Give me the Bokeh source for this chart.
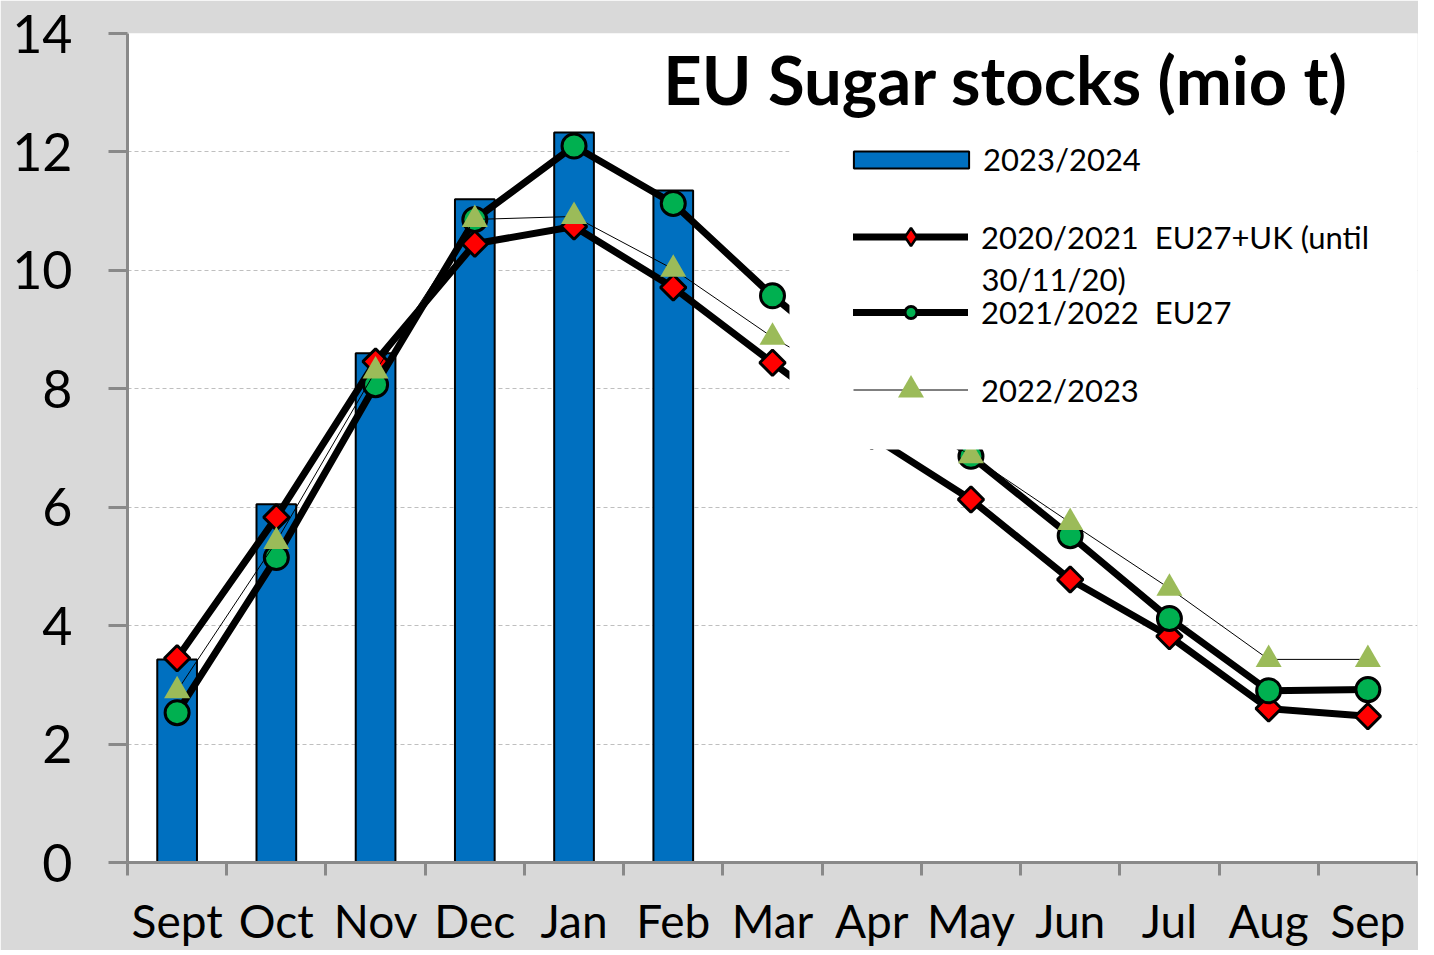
from bokeh.plotting import figure
from bokeh.models import (Range1d, FixedTicker, Legend, LegendItem, Label,
                          BoxAnnotation)
from bokeh.embed import file_html
from bokeh.resources import INLINE
import math

# ---------------- data ----------------
months = ["Sept", "Oct", "Nov", "Dec", "Jan", "Feb", "Mar", "Apr",
          "May", "Jun", "Jul", "Aug", "Sep"]
stocks_2023_24 = [3.43, 6.05, 8.60, 11.20, 12.33, 11.35]
stocks_2020_21 = [3.45, 5.83, 8.46, 10.45, 10.74, 9.71, 8.44, 7.20,
                  6.13, 4.78, 3.82, 2.60, 2.47]
stocks_2021_22 = [2.53, 5.15, 8.07, 10.86, 12.10, 11.13, 9.57, 8.20,
                  6.86, 5.52, 4.12, 2.90, 2.92]
stocks_2022_23 = [2.90, 5.42, 8.30, 10.86, 10.91, 10.02, 8.87, 7.90,
                  6.87, 5.74, 4.63, 3.43, 3.43]
y_ticks = [0, 2, 4, 6, 8, 10, 12, 14]

title_text = "EU Sugar stocks (mio t)"
label_2324 = "2023/2024"
label_2021 = "2020/2021\u00a0 EU27+UK (until"
label_2021_b = "30/11/20)"
label_2122 = "2021/2022\u00a0 EU27"
label_2223 = "2022/2023"

FONT = "Lato"
n = len(months)
centers = [i + 0.5 for i in range(n)]
bounds = [i for i in range(n + 1)]

p = figure(frame_width=1290, frame_height=829,
           x_range=Range1d(0, n), y_range=Range1d(0, 14),
           output_backend="svg", toolbar_location=None,
           min_border_left=127, min_border_top=33, min_border_bottom=75,
           min_border_right=1,
           background_fill_color="white", border_fill_color="#d9d9d9",
           outline_line_color=None)

# axes
ax = p.xaxis[0]
ax.ticker = FixedTicker(ticks=centers, minor_ticks=bounds)
ax.major_label_overrides = {c: m for c, m in zip(centers, months)}
ax.major_tick_line_color = None
ax.major_tick_out = 0
ax.major_tick_in = 0
ax.minor_tick_out = 13
ax.minor_tick_in = 0
ax.minor_tick_line_color = "#898989"
ax.minor_tick_line_width = 3
ax.axis_line_color = "#898989"
ax.axis_line_width = 3
ax.major_label_text_font = FONT
ax.major_label_text_font_size = "46px"
ax.major_label_text_color = "black"
ax.major_label_standoff = 17

ay = p.yaxis[0]
ay.ticker = FixedTicker(ticks=y_ticks)
ay.major_tick_out = 19
ay.major_tick_in = 0
ay.major_tick_line_color = "#898989"
ay.major_tick_line_width = 3
ay.minor_tick_line_color = None
ay.axis_line_color = "#898989"
ay.axis_line_width = 3
ay.major_label_text_font = FONT
ay.major_label_text_font_size = "52px"
ay.major_label_text_color = "black"
ay.major_label_standoff = 36

p.xgrid.grid_line_color = None
p.ygrid.grid_line_color = "#bfbfbf"
p.ygrid.grid_line_dash = "4 3"
p.ygrid.grid_line_width = 1

# bars
bars = p.vbar(x=centers[:len(stocks_2023_24)], top=stocks_2023_24, width=0.4,
              fill_color="#0070C0", line_color="black", line_width=2)

# 2020/2021
l1 = p.line(centers, stocks_2020_21, line_color="black", line_width=7,
            line_join="round", line_cap="round")
m1_key = p.scatter(centers, stocks_2020_21, marker="diamond", size=13,
                   fill_color="#ff0000", line_color="black", line_width=2.5)
m1 = p.scatter(centers, stocks_2020_21, marker="square", angle=math.pi / 4,
               size=18, fill_color="#ff0000", line_color="black", line_width=3)
# 2021/2022
l2 = p.line(centers, stocks_2021_22, line_color="black", line_width=7,
            line_join="round", line_cap="round")
m2 = p.scatter(centers, stocks_2021_22, marker="circle", size=24,
               fill_color="#00b050", line_color="black", line_width=3)
# 2022/2023
l3 = p.line(centers, stocks_2022_23, line_color="black", line_width=1)
m3 = p.scatter(centers, stocks_2022_23, marker="triangle", size=26,
               fill_color="#9bbb59", line_color=None)

# white legend area
p.add_layout(BoxAnnotation(left=6.671, bottom=6.975, top=12.7,
                           fill_color="white", fill_alpha=1.0,
                           line_color=None))


def make_legend(items, loc, gw, gh, standoff):
    lg = Legend(items=items, location=loc, orientation="vertical",
                glyph_width=gw, glyph_height=gh, label_standoff=standoff,
                padding=0, margin=0, spacing=0,
                border_line_color=None, background_fill_alpha=0,
                label_text_font=FONT, label_text_font_size="31px",
                label_text_color="black")
    p.add_layout(lg)


make_legend([LegendItem(label=label_2324, renderers=[bars])],
            (712, 684), 144, 21, 0)
make_legend([LegendItem(label=label_2021, renderers=[l1, m1_key])],
            (726, 603), 115, 45, 13)
make_legend([LegendItem(label=label_2122, renderers=[l2, m2])],
            (726, 531), 115, 30, 13)
make_legend([LegendItem(label=label_2223, renderers=[l3, m3])],
            (726, 440), 115, 65, 13)

p.add_layout(Label(x=8.606, y=9.846, text=label_2021_b, text_font=FONT,
                   text_font_size="31px", text_baseline="middle",
                   text_color="black"))

p.add_layout(Label(x=5.40, y=13.24, text=title_text, text_font=FONT,
                   text_font_style="bold", text_font_size="67px",
                   text_baseline="middle", text_color="black"))

open("out.html", "w").write(file_html(p, INLINE))
